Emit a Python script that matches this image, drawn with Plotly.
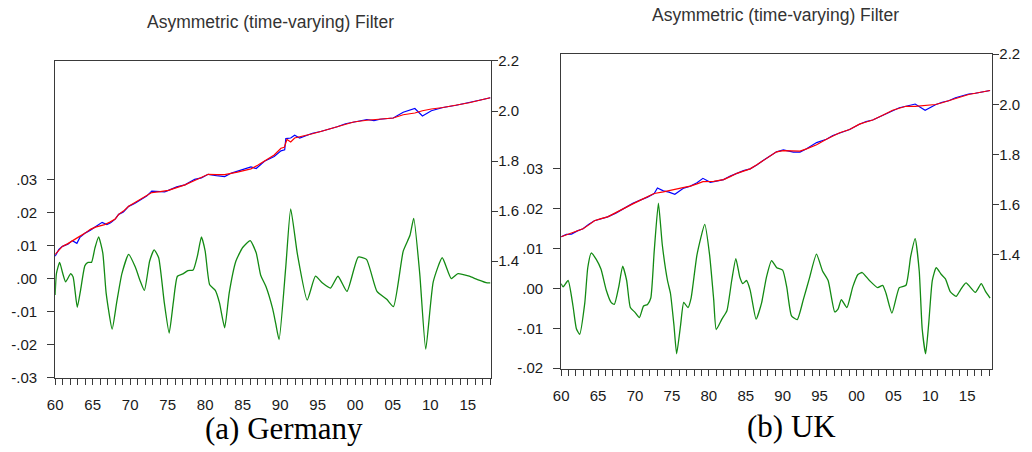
import plotly.graph_objects as go

# ---------------- Germany ----------------
de_cycle_year = [1960.0, 1960.17, 1960.6, 1960.97, 1961.4, 1962.07, 1962.4, 1962.95, 1963.4, 1963.97,
                 1964.4, 1964.85, 1965.3, 1965.8, 1966.35, 1966.8, 1967.6, 1968.2, 1968.9, 1969.8,
                 1970.7, 1971.3, 1971.9, 1972.6, 1973.2, 1973.8, 1974.55, 1975.2, 1975.75, 1976.3,
                 1977.1, 1977.7, 1978.4, 1978.96, 1979.5, 1980.0, 1980.6, 1981.35, 1981.9, 1982.6,
                 1983.2, 1984.1, 1985.0, 1986.0, 1986.8, 1987.4, 1988.1, 1989.0, 1989.4, 1989.85,
                 1990.74, 1991.4, 1992.3, 1993.6, 1994.7, 1995.6, 1996.7, 1997.7, 1998.9, 2000.4,
                 2001.5, 2002.9, 2004.2, 2005.1, 2006.4, 2007.3, 2007.8, 2008.6, 2009.4, 2010.4,
                 2011.6, 2012.8, 2013.7, 2015.2, 2016.3, 2017.6, 2018.0]
de_cycle = [-0.0050, 0.0015, 0.0049, 0.0019, -0.0010, 0.0015, 0.0005, -0.0087, -0.0034, 0.0039,
            0.0049, 0.0049, 0.0092, 0.0126, 0.0078, -0.0044, -0.0153, -0.0073, 0.0015, 0.0073,
            0.0034, -0.0005, -0.0036, 0.0053, 0.0087, 0.0063, -0.0073, -0.0165, -0.0073, 0.0007,
            0.0015, 0.0024, 0.0026, 0.0068, 0.0126, 0.0083, -0.0019, -0.0036, -0.0073, -0.0149,
            -0.0044, 0.0053, 0.0094, 0.0115, 0.0078, 0.0010, -0.0024, -0.0092, -0.0136, -0.0185,
            0.0034, 0.0211, 0.0073, -0.0065, 0.0007, -0.0013, -0.0029, 0.0007, -0.0039, 0.0065,
            0.0058, -0.0039, -0.0063, -0.0085, 0.0083, 0.0131, 0.0182, 0.0015, -0.0214, -0.0010,
            0.0063, 0.0000, 0.0015, 0.0007, -0.0003, -0.0013, -0.0013]

de_trend_year = [1960.0, 1960.5, 1960.97, 1961.7, 1962.3, 1963.1, 1964.05, 1964.7, 1965.37, 1966.0,
                 1966.6, 1967.3, 1968.0, 1968.47, 1969.1, 1969.8, 1970.6, 1971.55, 1972.2, 1972.88,
                 1974.0, 1975.1, 1976.2, 1977.3, 1978.6, 1979.5, 1980.4, 1981.5, 1982.6, 1984.3,
                 1985.2, 1986.1, 1987.0, 1987.9, 1989.2, 1990.1, 1990.55, 1990.9, 1991.4, 1991.93,
                 1993.2, 1994.3, 1995.4, 1996.5, 1997.6, 1998.7, 1999.8, 2001.55, 2003.3, 2005.07,
                 2006.4, 2007.95, 2008.96, 2010.15, 2011.7, 2013.46, 2015.2, 2017.0, 2018.0]
de_trend = [1.427, 1.444, 1.459, 1.470, 1.482, 1.496, 1.513, 1.527, 1.536, 1.541,
            1.546, 1.556, 1.568, 1.587, 1.600, 1.619, 1.633, 1.649, 1.662, 1.674,
            1.678, 1.683, 1.694, 1.705, 1.722, 1.735, 1.747, 1.746, 1.746, 1.756,
            1.761, 1.769, 1.783, 1.799, 1.824, 1.851, 1.855, 1.886, 1.876, 1.892,
            1.900, 1.909, 1.918, 1.928, 1.937, 1.947, 1.956, 1.963, 1.967, 1.972,
            1.985, 1.992, 2.001, 2.008, 2.014, 2.023, 2.033, 2.046, 2.053]

de_actual_year = [1960.0, 1960.5, 1960.97, 1961.7, 1962.3, 1962.9, 1963.3, 1964.05, 1964.7, 1965.37,
                  1966.26, 1966.9, 1967.4, 1968.0, 1968.47, 1969.1, 1969.8, 1970.6, 1971.55, 1972.2,
                  1972.88, 1973.8, 1974.6, 1975.1, 1976.2, 1977.3, 1978.6, 1979.5, 1980.4, 1981.5,
                  1982.6, 1983.5, 1984.3, 1985.2, 1986.1, 1986.8, 1987.9, 1989.2, 1990.1, 1990.6,
                  1990.75, 1991.4, 1991.93, 1992.6, 1993.2, 1994.3, 1995.4, 1996.5, 1997.6, 1998.7,
                  1999.8, 2001.55, 2002.5, 2003.3, 2005.07, 2006.4, 2007.95, 2008.96, 2010.15, 2011.7,
                  2013.46, 2015.2, 2017.0, 2018.0]
de_actual = [1.420, 1.447, 1.459, 1.468, 1.482, 1.471, 1.495, 1.513, 1.524, 1.536,
             1.555, 1.546, 1.553, 1.568, 1.587, 1.596, 1.619, 1.630, 1.649, 1.660,
             1.680, 1.679, 1.677, 1.683, 1.697, 1.705, 1.727, 1.733, 1.747, 1.742,
             1.738, 1.752, 1.760, 1.766, 1.777, 1.770, 1.799, 1.818, 1.841, 1.845,
             1.890, 1.892, 1.903, 1.892, 1.899, 1.911, 1.918, 1.926, 1.937, 1.949,
             1.956, 1.966, 1.962, 1.967, 1.972, 1.995, 2.010, 1.980, 2.001, 2.014,
             2.023, 2.033, 2.046, 2.053]

# ---------------- United Kingdom ----------------
uk_cycle_year = [1960.0, 1960.27, 1960.94, 1961.6, 1962.06, 1962.5, 1963.2, 1963.6, 1964.07, 1964.75,
                 1965.4, 1966.1, 1966.76, 1967.2, 1967.8, 1968.33, 1968.87, 1969.37, 1970.0, 1970.6,
                 1971.16, 1971.7, 1972.14, 1972.6, 1973.17, 1973.7, 1974.4, 1974.8, 1975.28, 1975.64,
                 1976.17, 1976.6, 1977.17, 1977.6, 1978.4, 1979.45, 1980.1, 1980.66, 1981.0, 1981.77,
                 1982.45, 1983.1, 1983.66, 1984.2, 1984.6, 1985.1, 1985.6, 1986.4, 1987.15, 1987.8,
                 1988.5, 1989.2, 1990.0, 1990.55, 1991.2, 1991.98, 1992.8, 1993.6, 1994.58, 1995.4,
                 1996.16, 1997.06, 1997.5, 1997.95, 1998.7, 1999.5, 2000.2, 2000.77, 2001.76, 2002.87,
                 2003.55, 2004.0, 2004.8, 2005.8, 2006.7, 2007.35, 2007.95, 2008.5, 2008.9, 2009.37,
                 2009.8, 2010.27, 2010.8, 2011.5, 2012.05, 2012.7, 2013.5, 2014.07, 2014.84, 2016.1,
                 2016.9, 2017.44, 2018.1]
uk_cycle = [0.0012, 0.0004, 0.0020, -0.0044, -0.0101, -0.0115, -0.0036, 0.0052, 0.0089, 0.0073,
            0.0048, -0.0004, -0.0035, -0.0040, 0.0004, 0.0056, 0.0020, -0.0048, -0.0060, -0.0073,
            -0.0044, -0.0040, -0.0024, 0.0093, 0.0214, 0.0109, 0.0020, -0.0012, -0.0093, -0.0164,
            -0.0093, -0.0035, -0.0048, -0.0024, 0.0085, 0.0161, 0.0085, -0.0028, -0.0103, -0.0077,
            -0.0056, 0.0020, 0.0075, 0.0028, 0.0012, 0.0020, -0.0004, -0.0077, -0.0036, 0.0028,
            0.0070, 0.0052, 0.0046, 0.0004, -0.0069, -0.0078, -0.0028, 0.0024, 0.0086, 0.0044,
            0.0020, -0.0059, -0.0052, -0.0028, -0.0048, 0.0004, 0.0035, 0.0040, 0.0020, 0.0002,
            0.0008, -0.0012, -0.0062, 0.0002, 0.0008, 0.0081, 0.0125, 0.0044, -0.0101, -0.0164,
            -0.0085, 0.0020, 0.0052, 0.0035, 0.0024, -0.0008, -0.0020, -0.0004, 0.0014, -0.0010,
            0.0012, -0.0006, -0.0024]

uk_trend_year = [1960.0, 1960.7, 1961.4, 1962.2, 1962.96, 1963.7, 1964.5, 1965.4, 1966.3, 1967.4,
                 1968.56, 1969.7, 1970.8, 1971.7, 1972.6, 1973.84, 1974.6, 1975.4, 1976.5, 1977.5,
                 1978.4, 1979.2, 1980.66, 1982.0, 1982.9, 1983.8, 1984.7, 1985.6, 1986.5, 1987.4,
                 1988.3, 1989.17, 1990.1, 1991.45, 1992.35, 1993.24, 1994.6, 1995.93, 1996.8, 1997.73,
                 1999.07, 2000.4, 2001.3, 2002.2, 2003.55, 2004.9, 2005.8, 2006.7, 2007.95, 2009.3,
                 2010.7, 2011.6, 2012.5, 2013.4, 2014.3, 2015.2, 2016.1, 2017.1, 2018.1]
uk_trend = [1.4705, 1.478, 1.486, 1.493, 1.5026, 1.517, 1.5346, 1.543, 1.550, 1.567,
            1.586, 1.602, 1.618, 1.631, 1.6435, 1.650, 1.656, 1.660, 1.667, 1.673,
            1.682, 1.691, 1.692, 1.699, 1.711, 1.724, 1.733, 1.742, 1.758, 1.776,
            1.793, 1.810, 1.815, 1.813, 1.813, 1.822, 1.838, 1.860, 1.873, 1.886,
            1.899, 1.9205, 1.929, 1.937, 1.956, 1.976, 1.984, 1.992, 1.992, 1.995,
            1.999, 2.006, 2.014, 2.024, 2.033, 2.039, 2.044, 2.050, 2.055]

uk_actual_year = [1960.0, 1960.7, 1961.4, 1962.2, 1962.96, 1963.7, 1964.5, 1965.4, 1966.3, 1967.4,
                  1968.56, 1969.7, 1970.8, 1971.7, 1972.6, 1973.04, 1973.84, 1974.6, 1975.4, 1976.6,
                  1977.5, 1978.4, 1979.2, 1980.2, 1981.2, 1982.0, 1982.9, 1983.8, 1984.7, 1985.6,
                  1986.5, 1987.4, 1988.3, 1989.17, 1990.1, 1991.45, 1992.35, 1993.24, 1994.6, 1995.93,
                  1996.8, 1997.73, 1999.07, 2000.4, 2001.3, 2002.2, 2003.55, 2004.9, 2005.8, 2006.7,
                  2007.95, 2009.3, 2010.7, 2011.6, 2012.5, 2013.4, 2014.3, 2015.2, 2016.1, 2017.1,
                  2018.1]
uk_actual = [1.4705, 1.480, 1.481, 1.494, 1.5026, 1.520, 1.5346, 1.541, 1.550, 1.565,
             1.586, 1.604, 1.618, 1.629, 1.6435, 1.6654, 1.654, 1.649, 1.640, 1.665,
             1.673, 1.686, 1.704, 1.688, 1.694, 1.699, 1.713, 1.724, 1.735, 1.742,
             1.757, 1.776, 1.795, 1.810, 1.818, 1.809, 1.809, 1.822, 1.847, 1.860,
             1.875, 1.886, 1.899, 1.9205, 1.931, 1.937, 1.956, 1.976, 1.986, 1.992,
             2.001, 1.976, 1.998, 2.008, 2.014, 2.026, 2.033, 2.041, 2.044, 2.051,
             2.055]

# ---------------- axis labels ----------------
year_ticks = list(range(1960, 2016, 5))
year_tick_labels = ["60", "65", "70", "75", "80", "85", "90", "95", "00", "05", "10", "15"]
minor_years = list(range(1960, 2019))

de_cycle_ticks = [-0.03, -0.02, -0.01, 0.00, 0.01, 0.02, 0.03]
de_cycle_labels = ["-.03", "-.02", "-.01", ".00", ".01", ".02", ".03"]
uk_cycle_ticks = [-0.02, -0.01, 0.00, 0.01, 0.02, 0.03]
uk_cycle_labels = ["-.02", "-.01", ".00", ".01", ".02", ".03"]
level_ticks = [1.4, 1.6, 1.8, 2.0, 2.2]
level_labels = ["1.4", "1.6", "1.8", "2.0", "2.2"]

panel_title = "Asymmetric (time-varying) Filter"
captions = ["(a) Germany", "(b) UK"]

W, H = 1032, 452
BLUE, RED, GREEN = "#0000ff", "#ff0000", "#138a13"
AXIS = "#3a3a3a"
TICKFONT = dict(family="Liberation Sans, Arial, sans-serif", size=15, color="#1a1a1a")


def px_x(p):
    return p / W


def px_y(p):
    return 1 - p / H


fig = go.Figure()

# Germany panel
fig.add_trace(go.Scatter(x=de_actual_year, y=de_actual, mode="lines", xaxis="x", yaxis="y2",
                         line=dict(color=BLUE, width=1.2)))
fig.add_trace(go.Scatter(x=de_trend_year, y=de_trend, mode="lines", xaxis="x", yaxis="y2",
                         line=dict(color=RED, width=1.2)))
fig.add_trace(go.Scatter(x=de_cycle_year, y=de_cycle, mode="lines", xaxis="x", yaxis="y",
                         line=dict(color=GREEN, width=1.3, shape="spline", smoothing=0.5)))

# UK panel
fig.add_trace(go.Scatter(x=uk_actual_year, y=uk_actual, mode="lines", xaxis="x2", yaxis="y4",
                         line=dict(color=BLUE, width=1.2)))
fig.add_trace(go.Scatter(x=uk_trend_year, y=uk_trend, mode="lines", xaxis="x2", yaxis="y4",
                         line=dict(color=RED, width=1.2)))
fig.add_trace(go.Scatter(x=uk_cycle_year, y=uk_cycle, mode="lines", xaxis="x2", yaxis="y3",
                         line=dict(color=GREEN, width=1.3, shape="spline", smoothing=0.5)))


def x_axis(domain, rng, anchor):
    return dict(domain=domain, range=rng, anchor=anchor, tickmode="array",
                tickvals=year_ticks, ticktext=year_tick_labels, ticks="outside", ticklen=6,
                tickcolor=AXIS, showline=True, mirror=True, linecolor=AXIS, linewidth=1,
                showgrid=False, zeroline=False, tickfont=TICKFONT, ticklabelstandoff=7,
                minor=dict(tickmode="array", tickvals=minor_years, ticks="outside",
                           ticklen=6, tickcolor=AXIS, showgrid=False))


def left_axis(domain, rng, anchor, vals, text):
    return dict(domain=domain, range=rng, anchor=anchor, side="left", tickmode="array",
                tickvals=vals, ticktext=text, ticks="outside", ticklen=7, tickcolor=AXIS,
                showline=True, linecolor=AXIS, linewidth=1, showgrid=False, zeroline=False,
                tickfont=TICKFONT, ticklabelstandoff=7)


def right_axis(over, rng, anchor):
    return dict(overlaying=over, range=rng, anchor=anchor, side="right", tickmode="array",
                tickvals=level_ticks, ticktext=level_labels, ticks="outside", ticklen=6,
                tickcolor=AXIS, showline=True, linecolor=AXIS, linewidth=1, showgrid=False,
                zeroline=False, tickfont=TICKFONT, ticklabelstandoff=-3)


de_x_dom = [px_x(47.5), px_x(487)]
de_y_dom = [px_y(383), px_y(54)]
uk_x_dom = [px_x(557.5), px_x(992)]
uk_y_dom = [px_y(374), px_y(47)]

fig.update_layout(
    width=W, height=H, autosize=False,
    margin=dict(l=0, r=0, t=0, b=0),
    paper_bgcolor="white", plot_bgcolor="white",
    showlegend=False,
    xaxis=x_axis(de_x_dom, [1960, 2018.13], "y"),
    yaxis=left_axis(de_y_dom, [-0.03, 0.0659], "x", de_cycle_ticks, de_cycle_labels),
    yaxis2=right_axis("y", [0.9346, 2.2], "x"),
    xaxis2=x_axis(uk_x_dom, [1960, 2018.4], "y3"),
    yaxis3=left_axis(uk_y_dom, [-0.0202, 0.0588], "x2", uk_cycle_ticks, uk_cycle_labels),
    yaxis4=right_axis("y3", [0.9423, 2.2], "x2"),
)

title_font = dict(family="Liberation Sans, Arial, sans-serif", size=17.5, color="#333333")
caption_font = dict(family="Liberation Serif, Times New Roman, serif", size=31, color="#000000")

fig.add_annotation(text=panel_title, x=px_x(265), y=px_y(13), xref="paper", yref="paper",
                   xanchor="center", yanchor="middle", showarrow=False, font=title_font)
fig.add_annotation(text=panel_title, x=px_x(773), y=px_y(6), xref="paper", yref="paper",
                   xanchor="center", yanchor="middle", showarrow=False, font=title_font)
fig.add_annotation(text=captions[0], x=px_x(278), y=px_y(436), xref="paper", yref="paper",
                   xanchor="center", yanchor="middle", showarrow=False, font=caption_font)
fig.add_annotation(text=captions[1], x=px_x(789.5), y=px_y(434), xref="paper", yref="paper",
                   xanchor="center", yanchor="middle", showarrow=False, font=caption_font)

fig.write_html("out.html")
